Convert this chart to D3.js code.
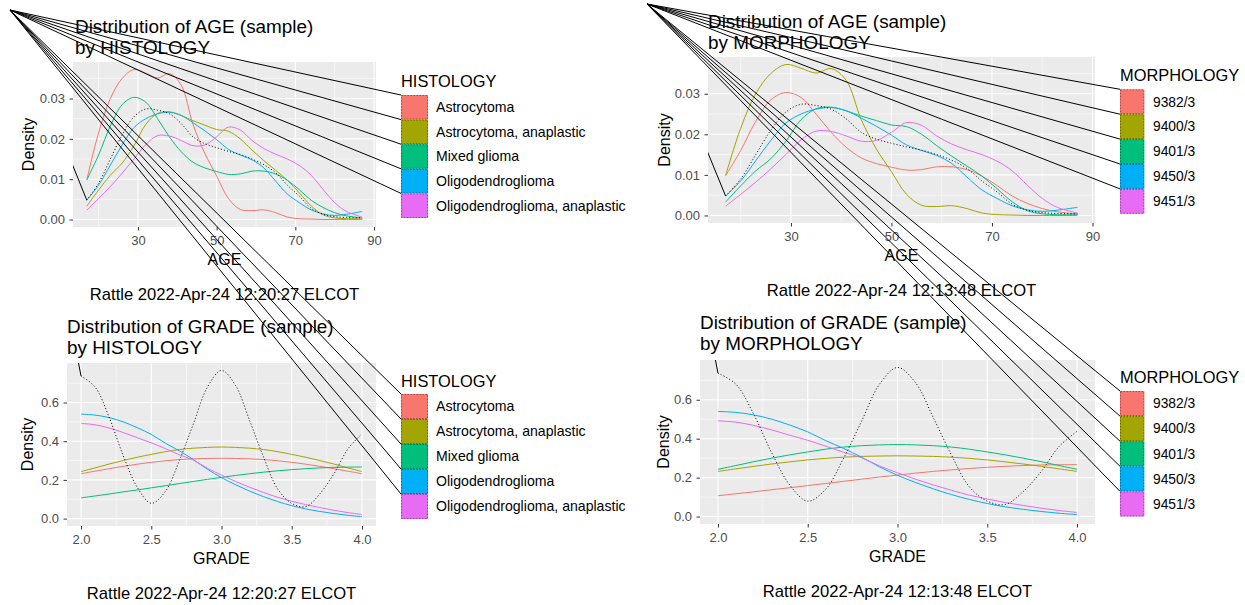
<!DOCTYPE html>
<html>
<head>
<meta charset="utf-8">
<script src="https://cdn.jsdelivr.net/npm/d3@7"></script>
<style>
  html, body { margin: 0; padding: 0; background: #fff; }
  svg { display: block; font-family: "Liberation Sans", Arial, sans-serif; }
</style>
</head>
<body>
<script>
// Four ggplot-style density panels (Rattle output), with the stray key lines.

const HISTOLOGY = ['Astrocytoma', 'Astrocytoma, anaplastic', 'Mixed glioma', 'Oligodendroglioma', 'Oligodendroglioma, anaplastic'];
const MORPHOLOGY = ['9382/3', '9400/3', '9401/3', '9450/3', '9451/3'];
const MORPH_TO_HIST = [2, 0, 1, 3, 4];
const COLORS = ['#F8766D', '#A3A500', '#00BF7D', '#00B0F6', '#E76BF3'];

const AGE_X = [17, 20, 23, 26, 29, 32, 35, 38, 41, 44, 47, 50, 53, 56, 59, 62, 65, 68, 71, 74, 77, 80, 83, 87];
const AGE_ASTRO = [0.0098, 0.0215, 0.0300, 0.0350, 0.0372, 0.0363, 0.0351, 0.0362, 0.0333, 0.0236, 0.0164, 0.0108, 0.0052, 0.0025, 0.0022, 0.0024, 0.0017, 0.0006, 0.0002, 0.0001, 0, 0, 0, 0];
const AGE_ASTRO_ANA = [0.0033, 0.0073, 0.0110, 0.0140, 0.0183, 0.0236, 0.0263, 0.0267, 0.0258, 0.0245, 0.0234, 0.0223, 0.0219, 0.0200, 0.0172, 0.0146, 0.0122, 0.0097, 0.0066, 0.0034, 0.0012, 0.0004, 0.0002, 0.0002];
const AGE_MIXED = [0.0098, 0.0160, 0.0232, 0.0285, 0.0303, 0.0291, 0.0250, 0.0205, 0.0168, 0.0142, 0.0128, 0.0119, 0.0112, 0.0113, 0.0120, 0.0120, 0.0113, 0.0097, 0.0074, 0.0048, 0.0030, 0.0017, 0.0009, 0.0004];
const AGE_OLIGO = [0.0048, 0.0085, 0.0135, 0.0185, 0.0228, 0.0250, 0.0262, 0.0266, 0.0258, 0.0240, 0.0220, 0.0198, 0.0174, 0.0160, 0.0148, 0.0128, 0.0095, 0.0063, 0.0042, 0.0024, 0.0014, 0.0010, 0.0013, 0.0020];
const AGE_OLIGO_ANA = [0.0023, 0.0052, 0.0082, 0.0115, 0.0150, 0.0186, 0.0208, 0.0207, 0.0196, 0.0183, 0.0185, 0.0205, 0.0229, 0.0222, 0.0196, 0.0176, 0.0162, 0.0150, 0.0134, 0.0110, 0.0075, 0.0042, 0.0020, 0.0006];
const AGE_ALL = [0.0048, 0.0090, 0.0150, 0.0210, 0.0255, 0.0274, 0.0271, 0.0262, 0.0238, 0.0205, 0.0188, 0.0178, 0.0169, 0.0161, 0.0150, 0.0136, 0.0116, 0.0085, 0.0058, 0.0028, 0.0013, 0.0007, 0.0005, 0.0004];

const GRADE_X = [2.0, 2.1, 2.2, 2.3, 2.4, 2.5, 2.6, 2.7, 2.8, 2.9, 3.0, 3.1, 3.2, 3.3, 3.4, 3.5, 3.6, 3.7, 3.8, 3.9, 4.0];
const GRADE_ASTRO = [0.232, 0.245, 0.258, 0.270, 0.281, 0.291, 0.299, 0.305, 0.309, 0.311, 0.312, 0.311, 0.309, 0.305, 0.299, 0.291, 0.281, 0.270, 0.258, 0.245, 0.232];
const GRADE_ASTRO_ANA = [0.243, 0.262, 0.282, 0.300, 0.317, 0.332, 0.346, 0.357, 0.364, 0.368, 0.370, 0.368, 0.364, 0.357, 0.346, 0.332, 0.317, 0.300, 0.282, 0.262, 0.243];
const GRADE_MIXED = [0.107, 0.117, 0.127, 0.138, 0.148, 0.159, 0.170, 0.181, 0.192, 0.203, 0.213, 0.223, 0.232, 0.240, 0.247, 0.253, 0.258, 0.262, 0.265, 0.266, 0.267];
const GRADE_OLIGO = [0.540, 0.535, 0.522, 0.500, 0.470, 0.435, 0.390, 0.350, 0.305, 0.255, 0.212, 0.175, 0.142, 0.113, 0.088, 0.067, 0.050, 0.037, 0.026, 0.017, 0.010];
const GRADE_OLIGO_ANA = [0.492, 0.485, 0.468, 0.445, 0.418, 0.392, 0.362, 0.330, 0.302, 0.260, 0.225, 0.192, 0.162, 0.135, 0.110, 0.090, 0.072, 0.057, 0.043, 0.031, 0.021];
const GRADE_ALL = [0.737, 0.680, 0.524, 0.326, 0.162, 0.079, 0.140, 0.300, 0.490, 0.680, 0.766, 0.688, 0.507, 0.317, 0.153, 0.079, 0.062, 0.128, 0.231, 0.360, 0.438];

const AGE_TICKS = [30, 50, 70, 90], AGE_MINOR = [20, 40, 60, 80];
const AGE_YTICKS = [0, 0.01, 0.02, 0.03], AGE_YMINOR = [0.005, 0.015, 0.025, 0.035];
const GRADE_TICKS = [2.0, 2.5, 3.0, 3.5, 4.0], GRADE_MINOR = [2.25, 2.75, 3.25, 3.75];
const GRADE_YTICKS = [0, 0.2, 0.4, 0.6], GRADE_YMINOR = [0.1, 0.3, 0.5, 0.7];

const AGE_HIST = [AGE_ASTRO, AGE_ASTRO_ANA, AGE_MIXED, AGE_OLIGO, AGE_OLIGO_ANA];
const GRADE_HIST = [GRADE_ASTRO, GRADE_ASTRO_ANA, GRADE_MIXED, GRADE_OLIGO, GRADE_OLIGO_ANA];

const W = 1245, H = 605;
const svg = d3.select('body').append('svg').attr('width', W).attr('height', H);
svg.append('rect').attr('width', W).attr('height', H).attr('fill', '#fff');
const gPanels = svg.append('g'), gStray = svg.append('g');
const expand = ([a, b]) => [a - (b - a) * 0.05, b + (b - a) * 0.05];
let clipN = 0;

function drawPanel(L) {
  const g = gPanels.append('g');
  const x = d3.scaleLinear().domain(expand(d3.extent(L.xs))).range([L.x0, L.x1]);
  const ymax = d3.max([...L.series.flat(), ...L.all]);
  const y = d3.scaleLinear().domain(expand([0, ymax])).range([L.y1, L.y0]);

  g.append('rect').attr('x', L.x0).attr('y', L.y0).attr('width', L.x1 - L.x0).attr('height', L.y1 - L.y0).attr('fill', '#EBEBEB');
  const grid = (vals, w, vert) => g.append('g').selectAll('line').data(vals).enter().append('line')
    .attr('x1', d => vert ? x(d) : L.x0).attr('x2', d => vert ? x(d) : L.x1)
    .attr('y1', d => vert ? L.y0 : y(d)).attr('y2', d => vert ? L.y1 : y(d))
    .attr('stroke', '#fff').attr('stroke-width', w);
  grid(L.yMinor.filter(v => y(v) > L.y0), 0.55, false); grid(L.xMinor, 0.55, true);
  grid(L.yTicks, 1.1, false); grid(L.xTicks, 1.1, true);

  const line = d3.line().x(d => x(d[0])).y(d => y(d[1])).curve(d3.curveCatmullRom.alpha(0.5));
  L.series.forEach((s, i) => {
    g.append('path').attr('d', line(L.xs.map((v, j) => [v, s[j]]))).attr('fill', 'none')
      .attr('stroke', L.colors[i]).attr('stroke-width', 1);
  });
  g.append('path').attr('d', line(L.xs.map((v, j) => [v, L.all[j]]))).attr('fill', 'none')
    .attr('stroke', '#000').attr('stroke-width', 1).attr('stroke-dasharray', '1,2.2');

  // solid lead-in from the page origin to the first point, clipped to the panel
  const id = 'clip' + (clipN++);
  svg.append('clipPath').attr('id', id).append('rect').attr('x', L.x0).attr('y', L.y0).attr('width', L.x1 - L.x0).attr('height', L.y1 - L.y0);
  g.append('line').attr('clip-path', `url(#${id})`).attr('x1', L.origin[0]).attr('y1', L.origin[1])
    .attr('x2', x(L.xs[0])).attr('y2', y(L.all[0])).attr('stroke', '#000').attr('stroke-width', 1);

  const ax = g.append('g').attr('transform', `translate(0,${L.y1})`)
    .call(d3.axisBottom(x).tickValues(L.xTicks).tickSize(3.5).tickPadding(5.5).tickFormat(L.xFmt));
  const ay = g.append('g').attr('transform', `translate(${L.x0},0)`)
    .call(d3.axisLeft(y).tickValues(L.yTicks).tickSize(3.5).tickPadding(4.5).tickFormat(L.yFmt));
  [ax, ay].forEach(a => {
    a.select('.domain').remove();
    a.selectAll('.tick line').attr('stroke', '#333').attr('stroke-width', 1);
    a.selectAll('.tick text').attr('fill', '#4D4D4D').attr('font-size', '13px').attr('font-family', null);
  });

  g.selectAll('.title').data(L.title).enter().append('text').attr('x', L.titleX).attr('y', (d, i) => L.titleY + i * 21)
    .attr('font-size', '18.9px').attr('fill', '#000').text(d => d);
  const cy = (L.y0 + L.y1) / 2, cx = (L.x0 + L.x1) / 2;
  g.append('text').attr('transform', `translate(${L.densX},${cy}) rotate(-90)`).attr('text-anchor', 'middle').attr('dy', '0.35em')
    .attr('font-size', '16px').text('Density');
  g.append('text').attr('x', cx).attr('y', L.y1 + 38).attr('text-anchor', 'middle').attr('font-size', '16px').text(L.xLabel);
  g.append('text').attr('x', cx).attr('y', L.y1 + 72.5).attr('text-anchor', 'middle').attr('font-size', '16.6px').text(L.caption);

  // legend
  const lg = L.legend;
  g.append('text').attr('x', lg.x).attr('y', lg.titleY).attr('font-size', '16.4px').text(lg.title);
  lg.labels.forEach((lab, i) => {
    const ky = lg.keyY + i * lg.keyH;
    g.append('rect').attr('x', lg.x).attr('y', ky).attr('width', lg.keyW).attr('height', lg.keyH).attr('fill', L.colors[i]);
    g.append('rect').attr('x', lg.x + 0.5).attr('y', ky + 0.5).attr('width', lg.keyW - 1).attr('height', lg.keyH - 1)
      .attr('fill', 'none').attr('stroke', '#000').attr('stroke-opacity', 0.35).attr('stroke-width', 1).attr('stroke-dasharray', '1.5,1.5');
    g.append('text').attr('x', lg.labelX).attr('y', ky + lg.keyH / 2).attr('dy', '0.35em').attr('font-size', lg.fs).text(lab);
    gStray.append('line').attr('x1', L.origin[0]).attr('y1', L.origin[1]).attr('x2', lg.x).attr('y2', ky)
      .attr('stroke', '#000').attr('stroke-width', 1);
  });
}

const f2 = d3.format('.2f'), f1 = d3.format('.1f');

drawPanel({
  x0: 73, x1: 376, y0: 62, y1: 227, origin: [10, 10],
  xs: AGE_X, series: AGE_HIST, all: AGE_ALL, colors: COLORS,
  xTicks: AGE_TICKS, xMinor: AGE_MINOR, yTicks: AGE_YTICKS, yMinor: AGE_YMINOR, xFmt: d3.format('d'), yFmt: f2,
  title: ['Distribution of AGE (sample)', 'by HISTOLOGY'], titleX: 75, titleY: 33, densX: 28,
  xLabel: 'AGE', caption: 'Rattle 2022-Apr-24 12:20:27 ELCOT',
  legend: { title: 'HISTOLOGY', labels: HISTOLOGY, x: 401, titleY: 86.5, keyY: 95, keyW: 27, keyH: 24.6, labelX: 436, fs: '14.1px' }
});
drawPanel({
  x0: 67, x1: 376, y0: 363, y1: 526, origin: [10, 10],
  xs: GRADE_X, series: GRADE_HIST, all: GRADE_ALL, colors: COLORS,
  xTicks: GRADE_TICKS, xMinor: GRADE_MINOR, yTicks: GRADE_YTICKS, yMinor: GRADE_YMINOR, xFmt: f1, yFmt: f1,
  title: ['Distribution of GRADE (sample)', 'by HISTOLOGY'], titleX: 67, titleY: 333, densX: 27.5,
  xLabel: 'GRADE', caption: 'Rattle 2022-Apr-24 12:20:27 ELCOT',
  legend: { title: 'HISTOLOGY', labels: HISTOLOGY, x: 401, titleY: 387, keyY: 394, keyW: 27, keyH: 25, labelX: 436, fs: '14.1px' }
});
drawPanel({
  x0: 708, x1: 1095, y0: 57, y1: 223, origin: [647, 4],
  xs: AGE_X, series: MORPH_TO_HIST.map(i => AGE_HIST[i]), all: AGE_ALL, colors: COLORS,
  xTicks: AGE_TICKS, xMinor: AGE_MINOR, yTicks: AGE_YTICKS, yMinor: AGE_YMINOR, xFmt: d3.format('d'), yFmt: f2,
  title: ['Distribution of AGE (sample)', 'by MORPHOLOGY'], titleX: 708, titleY: 27.5, densX: 664,
  xLabel: 'AGE', caption: 'Rattle 2022-Apr-24 12:13:48 ELCOT',
  legend: { title: 'MORPHOLOGY', labels: MORPHOLOGY, x: 1120, titleY: 81, keyY: 89.3, keyW: 24.3, keyH: 24.9, labelX: 1153, fs: '13.8px' }
});
drawPanel({
  x0: 700, x1: 1095, y0: 360, y1: 524, origin: [647, 4],
  xs: GRADE_X, series: MORPH_TO_HIST.map(i => GRADE_HIST[i]), all: GRADE_ALL, colors: COLORS,
  xTicks: GRADE_TICKS, xMinor: GRADE_MINOR, yTicks: GRADE_YTICKS, yMinor: GRADE_YMINOR, xFmt: f1, yFmt: f1,
  title: ['Distribution of GRADE (sample)', 'by MORPHOLOGY'], titleX: 700, titleY: 328.5, densX: 663.5,
  xLabel: 'GRADE', caption: 'Rattle 2022-Apr-24 12:13:48 ELCOT',
  legend: { title: 'MORPHOLOGY', labels: MORPHOLOGY, x: 1120, titleY: 382.5, keyY: 391, keyW: 24.3, keyH: 25.1, labelX: 1153, fs: '13.8px' }
});
</script>
</body>
</html>
